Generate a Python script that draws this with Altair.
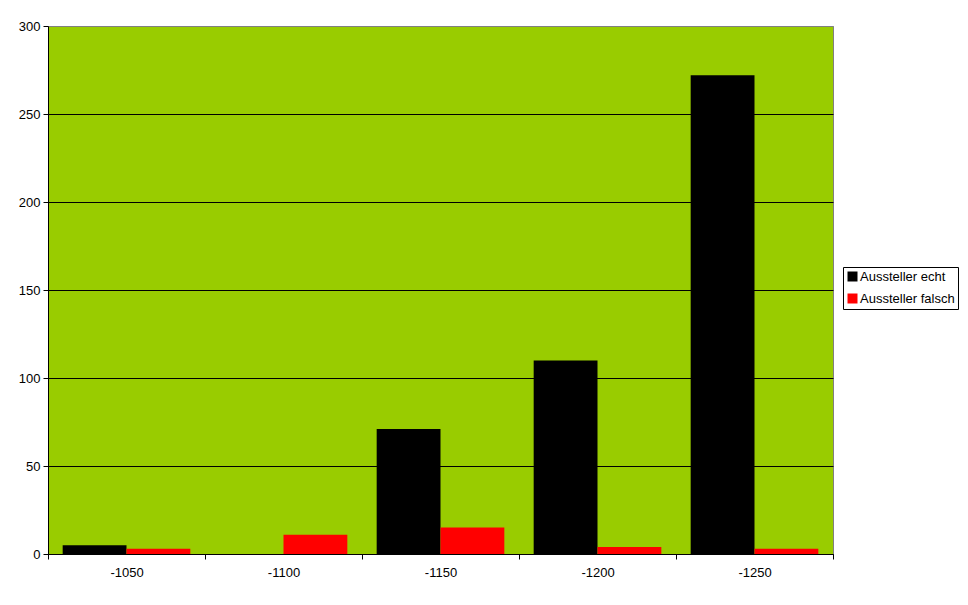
import altair as alt
import pandas as pd

categories = ["-1050", "-1100", "-1150", "-1200", "-1250"]
series_names = ["Aussteller echt", "Aussteller falsch"]
echt = [5, 0, 71, 110, 272]
falsch = [3, 11, 15, 4, 3]

rows = []
for c, e, f in zip(categories, echt, falsch):
    rows.append({"Jahr": c, "Serie": series_names[0], "Wert": e})
    rows.append({"Jahr": c, "Serie": series_names[1], "Wert": f})
df = pd.DataFrame(rows)

FONT = "Liberation Sans"

chart = alt.Chart(df).mark_bar(strokeWidth=0).encode(
    x=alt.X("Jahr:N", sort=categories, title=None,
            scale=alt.Scale(paddingInner=0, paddingOuter=0),
            axis=alt.Axis(labelAngle=0, tickBand="extent", domainColor="black",
                          tickColor="black", tickSize=5, labelPadding=7,
                          labelFont=FONT, labelFontSize=13, labelColor="black")),
    xOffset=alt.XOffset("Serie:N", sort=series_names,
                        scale=alt.Scale(paddingInner=0, paddingOuter=0.23)),
    y=alt.Y("Wert:Q", title=None,
            scale=alt.Scale(domain=[0, 300], nice=False),
            axis=alt.Axis(values=[0, 50, 100, 150, 200, 250, 300], grid=True,
                          gridColor={"condition": {"test": "datum.value === 300", "value": "#808080"},
                                     "value": "black"},
                          gridOpacity=1, domainColor="black",
                          tickColor="black", tickSize=5, labelPadding=3,
                          labelFont=FONT, labelFontSize=13, labelColor="black")),
    color=alt.Color("Serie:N", sort=series_names,
                    scale=alt.Scale(domain=series_names, range=["#000000", "#FF0000"]),
                    legend=alt.Legend(title=None, orient="none", legendX=795, legendY=241,
                                      symbolType="square", symbolSize=100,
                                      symbolStrokeWidth=0, labelFont=FONT,
                                      labelFontSize=13, labelColor="black",
                                      strokeColor="black", fillColor="white",
                                      padding=3, rowPadding=8, labelOffset=1)),
).properties(
    width=785, height=528,
    background="white",
    autosize=alt.AutoSizeParams(type="none"),
    padding={"left": 40, "top": 18, "right": 127, "bottom": 43},
).configure_view(
    fill="#99CC00", stroke="#808080", strokeWidth=1
)

chart.save("out.html", embed_options={"renderer": "svg", "actions": False})
